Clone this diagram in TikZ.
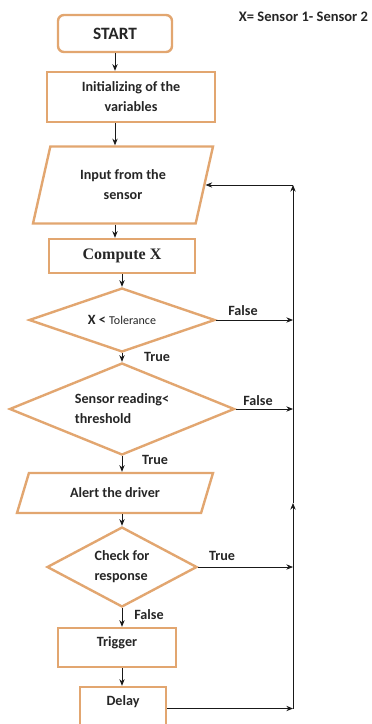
\documentclass[tikz,border=0pt]{standalone}
\usepackage{fontspec}
\setmainfont{Carlito}
\newfontfamily\timesfont{Liberation Serif}
\usetikzlibrary{shapes.geometric,arrows.meta}
\definecolor{boxline}{RGB}{226,166,112}

\begin{document}
\begin{tikzpicture}[x=0.75pt,y=0.75pt,yscale=-1,xscale=1,
  font=\fontsize{10.6}{15}\selectfont\bfseries,
  every node/.style={text=black!85},
  procbox/.style={draw=boxline,line width=1.8pt,fill=white,inner sep=0pt,align=center},
  startbox/.style={procbox,rounded corners=4.5pt,font=\fontsize{13}{15}\selectfont\bfseries},
  iobox/.style={procbox,trapezium,trapezium stretches body},
  decision/.style={procbox,diamond},
  flow/.style={-{Stealth[length=5pt,width=4pt]},line width=0.6pt,black!90}]
\useasboundingbox (0,0) rectangle (371,724);
\clip (0,0) rectangle (371,724);

%Shape: Rounded Rect
\node[startbox,minimum width=85.5pt,minimum height=27.75pt] (start) at (115,33.5) {START};
%Shape: Rectangle
\node[procbox,minimum width=126pt,minimum height=37.5pt] (init) at (131,97) {Initializing of the\\variables};
%Shape: Parallelogram
\node[iobox,trapezium left angle=60,trapezium right angle=120,minimum width=135pt,minimum height=57.75pt] (input) at (123,185) {Input from the\\sensor};
%Shape: Rectangle
\node[procbox,minimum width=109.5pt,minimum height=25.5pt,font=\timesfont\fontsize{12}{14}\selectfont\bfseries] (compute) at (122,256) {Compute X};
%Shape: Diamond
\node[decision,aspect=2.9,minimum width=139.5pt,minimum height=48pt] (tol) at (122,320) {X < {\mdseries\fontsize{9}{11}\selectfont Tolerance}};
%Shape: Diamond
\node[decision,aspect=2.45,minimum width=168.75pt,minimum height=69pt,align=left] (thresh) at (122,409) {Sensor reading<\\threshold};
%Shape: Parallelogram
\node[iobox,trapezium left angle=40,trapezium right angle=140,minimum width=147pt,minimum height=30pt] (alert) at (115,493) {Alert the driver};
%Shape: Diamond
\node[decision,aspect=1.875,minimum width=112.5pt,minimum height=60pt,align=left] (resp) at (122,567) {Check for\\response};
%Shape: Rectangle
\node[procbox,minimum width=88.5pt,minimum height=29.25pt,text height=8pt,text depth=10pt] (trigger) at (117,647.5) {Trigger};
%Shape: Rectangle
\node[procbox,minimum width=64.5pt,minimum height=32.25pt,text height=8pt,text depth=12pt] (delay) at (123,708.5) {Delay};

%Return line
\coordinate (rail) at (293,185);
\coordinate (railmid) at (293,503);

%Straight Lines
\draw[flow] (start) -- (start |- init.north);
\draw[flow] (start |- init.south) -- (start |- input.north);
\draw[flow] (start |- input.south) -- (start |- compute.north);
\draw[flow] (compute) -- (tol);
\draw[flow] (tol) -- (thresh);
\draw[flow] (thresh) -- (thresh |- alert.north);
\draw[flow] (resp |- alert.south) -- (resp);
\draw[flow] (resp) -- (resp |- trigger.north);
\draw[flow] (resp |- trigger.south) -- (resp |- delay.north);
%Straight Lines
\draw[flow] (tol) -- (tol -| rail);
\draw[flow] (thresh) -- (thresh -| rail);
\draw[flow] (resp) -- (resp -| rail);
\draw[flow] (delay) -- (delay -| rail);
\draw[flow] (delay -| rail) -- (railmid);
\draw[flow] (railmid) -- (rail);
\draw[flow] (rail) -- (input);

% Text Node
\node (tolno) at (243,311) {False};
% Text Node
\node (tolyes) at (157,357) {True};
% Text Node
\node (threshno) at (258,401) {False};
% Text Node
\node (threshyes) at (155,460) {True};
% Text Node
\node (respyes) at (222,556) {True};
% Text Node
\node (respno) at (149,615) {False};
% Text Node
\node[font=\fontsize{10.9}{13}\selectfont\bfseries] (formula) at (303.5,17) {X= Sensor 1- Sensor 2};

\end{tikzpicture}
\end{document}
